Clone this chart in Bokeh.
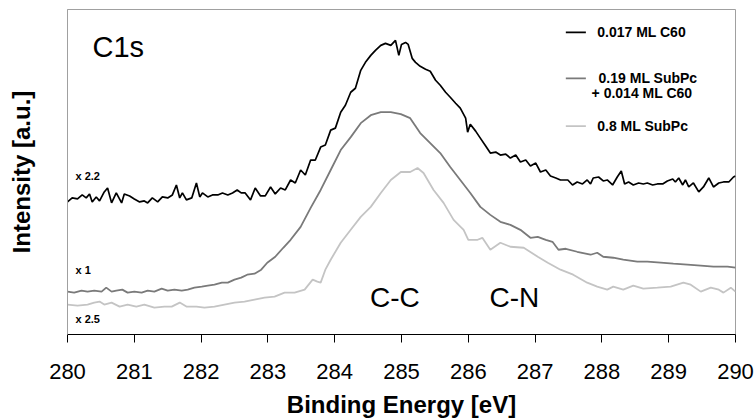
from bokeh.plotting import figure
from bokeh.models import Range1d, FixedTicker, Label, Arrow
from bokeh.embed import file_html
from bokeh.resources import INLINE

# ---- data (binding energy in eV, intensity in arbitrary units) ----
energy_c60 = [280.00, 280.07, 280.15, 280.22, 280.28, 280.33, 280.37, 280.43, 280.48, 280.55,
              280.60, 280.66, 280.73, 280.81, 280.85, 280.93, 281.00, 281.08, 281.15, 281.20,
              281.27, 281.35, 281.42, 281.50, 281.57, 281.63, 281.68, 281.72, 281.78, 281.86,
              281.93, 281.98, 282.02, 282.10, 282.17, 282.25, 282.32, 282.40, 282.47, 282.54,
              282.60, 282.66, 282.74, 282.81, 282.89, 282.96, 283.04, 283.11, 283.19, 283.26,
              283.34, 283.41, 283.49, 283.56, 283.64, 283.71, 283.79, 283.86, 283.94, 284.01,
              284.09, 284.16, 284.24, 284.31, 284.39, 284.46, 284.54, 284.61, 284.69, 284.76,
              284.84, 284.91, 284.96, 285.00, 285.06, 285.10, 285.16, 285.21, 285.28, 285.36,
              285.43, 285.51, 285.58, 285.66, 285.73, 285.81, 285.88, 285.96, 285.99, 286.03,
              286.11, 286.18, 286.26, 286.33, 286.41, 286.48, 286.56, 286.63, 286.71, 286.78,
              286.86, 286.93, 287.01, 287.08, 287.16, 287.23, 287.31, 287.38, 287.49, 287.56,
              287.63, 287.71, 287.78, 287.83, 287.87, 287.95, 288.02, 288.08, 288.16, 288.23,
              288.29, 288.34, 288.40, 288.47, 288.55, 288.62, 288.68, 288.76, 288.83, 288.91,
              288.98, 289.06, 289.10, 289.15, 289.21, 289.25, 289.30, 289.37, 289.45, 289.52,
              289.60, 289.67, 289.75, 289.82, 289.90, 289.97, 290.00]
intensity_c60 = [133, 137, 136, 140, 137, 141, 133, 138, 134, 143,
                 147, 132, 142, 132, 141, 139, 136, 133, 134, 132,
                 137, 133, 138, 137, 140, 150, 137, 142, 135, 137,
                 152, 138, 142, 138, 140, 140, 142, 140, 142, 145,
                 142, 142, 135, 147, 139, 139, 148, 141, 147, 145,
                 155, 152, 165, 160, 175, 175, 188, 190, 205, 207,
                 223, 230, 243, 247, 265, 273, 280, 285, 290, 292,
                 290, 295, 280, 291, 293, 291, 277, 273, 269, 266,
                 264, 255, 250, 243, 238, 232, 227, 217, 203, 211,
                 204, 197, 189, 182, 183, 180, 181, 177, 180, 173,
                 175, 169, 172, 163, 165, 159, 157, 155, 155, 150,
                 153, 151, 155, 151, 157, 158, 154, 155, 150, 158,
                 164, 151, 153, 150, 152, 151, 152, 150, 151, 151,
                 154, 156, 153, 157, 150, 155, 148, 152, 143, 148,
                 157, 148, 152, 153, 153, 158, 159]

energy_mix = [280.00, 280.10, 280.21, 280.30, 280.40, 280.51, 280.58, 280.66, 280.73, 280.82,
              280.90, 281.00, 281.11, 281.20, 281.30, 281.41, 281.50, 281.60, 281.71, 281.80,
              281.90, 282.01, 282.10, 282.20, 282.31, 282.40, 282.50, 282.60, 282.69, 282.80,
              282.90, 282.99, 283.11, 283.23, 283.34, 283.49, 283.64, 283.79, 283.94, 284.09,
              284.24, 284.39, 284.54, 284.69, 284.84, 284.99, 285.13, 285.28, 285.43, 285.58,
              285.73, 285.88, 286.03, 286.18, 286.33, 286.48, 286.63, 286.78, 286.93, 287.04,
              287.16, 287.26, 287.35, 287.46, 287.63, 287.83, 287.93, 288.02, 288.17, 288.32,
              288.53, 288.68, 288.88, 289.07, 289.28, 289.48, 289.67, 289.88, 290.00]
intensity_mix = [43, 42, 44, 43, 44, 43, 47, 43, 44, 45,
                 42, 43, 42, 44, 43, 46, 44, 45, 44, 45,
                 47, 48, 49, 50, 52, 52, 55, 57, 60, 61,
                 65, 72, 78, 87, 95, 108, 127, 145, 165, 185,
                 198, 212, 220, 223, 223, 221, 217, 202, 192, 182,
                 168, 155, 142, 128, 120, 113, 110, 105, 97, 98,
                 95, 93, 85, 86, 83, 80, 82, 78, 77, 75,
                 73, 73, 72, 71, 70, 69, 68, 68, 67]

energy_subpc = [280.00, 280.15, 280.30, 280.40, 280.48, 280.55, 280.66, 280.78, 280.90, 281.03,
                281.15, 281.30, 281.45, 281.56, 281.68, 281.78, 281.93, 282.05, 282.20, 282.35,
                282.50, 282.65, 282.80, 282.95, 283.10, 283.25, 283.40, 283.55, 283.67, 283.74,
                283.79, 283.86, 283.94, 284.09, 284.24, 284.39, 284.54, 284.69, 284.84, 284.99,
                285.13, 285.24, 285.33, 285.48, 285.63, 285.78, 285.93, 286.00, 286.14, 286.21,
                286.33, 286.48, 286.63, 286.83, 287.04, 287.19, 287.38, 287.57, 287.78, 287.93,
                288.08, 288.17, 288.32, 288.47, 288.62, 288.83, 289.03, 289.22, 289.33, 289.48,
                289.63, 289.75, 289.82, 289.93, 290.00]
intensity_subpc = [30, 29, 30, 32, 33, 30, 32, 28, 30, 28,
                   30, 27, 28, 28, 32, 28, 28, 27, 28, 30,
                   32, 33, 35, 37, 38, 42, 42, 45, 55, 53,
                   52, 65, 75, 92, 105, 118, 128, 142, 155, 163,
                   163, 167, 162, 145, 132, 115, 105, 95, 95, 97,
                   85, 92, 88, 87, 78, 72, 65, 60, 52, 48,
                   45, 48, 45, 49, 46, 47, 48, 52, 50, 43,
                   47, 45, 42, 47, 43]

x_ticks = [280, 281, 282, 283, 284, 285, 286, 287, 288, 289, 290]
series_labels = ["0.017 ML C60", "0.19 ML SubPc", "+ 0.014 ML C60", "0.8 ML SubPc"]
scale_labels = ["x 2.2", "x 1", "x 2.5"]

FONT = "Liberation Sans"
C_BLACK = "#000000"
C_DARK = "#7a7a7a"
C_LIGHT = "#c4c4c4"

p = figure(width=755, height=420, output_backend="svg", toolbar_location=None,
           x_range=Range1d(280, 290), y_range=Range1d(0, 326),
           min_border_left=67, min_border_right=20, min_border_top=9,
           min_border_bottom=85)
p.grid.visible = False
p.outline_line_color = "#a0a0a0"
p.outline_line_width = 1
p.background_fill_color = "white"
p.border_fill_color = "white"

# curves
p.line(energy_subpc, intensity_subpc, line_color=C_LIGHT, line_width=1.8)
p.line(energy_mix, intensity_mix, line_color=C_DARK, line_width=1.8)
p.line(energy_c60, intensity_c60, line_color=C_BLACK, line_width=1.7)

# x axis
xa = p.xaxis[0]
xa.ticker = FixedTicker(ticks=x_ticks)
xa.axis_line_color = "#000000"
xa.axis_line_width = 1
xa.major_tick_line_color = "#000000"
xa.major_tick_line_width = 1
xa.major_tick_out = 8
xa.major_tick_in = 0
xa.minor_tick_line_color = None
xa.major_label_text_font = FONT
xa.major_label_text_font_size = "22px"
xa.major_label_text_color = "#000000"
xa.major_label_standoff = 21
xa.axis_label = "Binding Energy [eV]"
xa.axis_label_text_font = FONT
xa.axis_label_text_font_size = "24px"
xa.axis_label_text_font_style = "bold"
xa.axis_label_text_color = "#000000"
xa.axis_label_standoff = 9

# y axis
ya = p.yaxis[0]
ya.ticker = FixedTicker(ticks=[])
ya.axis_line_color = "#a0a0a0"
ya.major_tick_line_color = None
ya.minor_tick_line_color = None
ya.major_tick_out = 0
ya.major_label_standoff = 0
ya.axis_label = "Intensity [a.u.]"
ya.axis_label_text_font = FONT
ya.axis_label_text_font_size = "24px"
ya.axis_label_text_font_style = "bold"
ya.axis_label_text_color = "#000000"
ya.axis_label_standoff = 33

# annotations
def add_label(x, y, text, size, bold=False, align="left"):
    p.add_layout(Label(x=x, y=y, text=text, text_font=FONT, text_font_size=size,
                       text_font_style="bold" if bold else "normal",
                       text_align=align, text_baseline="middle", text_color="#000000"))

add_label(280.76, 288, "C1s", "29px", align="center")
add_label(284.90, 37, "C-C", "28px", align="center")
add_label(286.69, 37, "C-N", "28px", align="center")

add_label(280.12, 159, scale_labels[0], "11px", bold=True)
add_label(280.12, 65, scale_labels[1], "11px", bold=True)
add_label(280.12, 16, scale_labels[2], "11px", bold=True)

# legend
leg_x0, leg_x1, leg_tx = 287.46, 287.76, 287.93
for y, col in [(303, C_BLACK), (257, C_DARK), (209, C_LIGHT)]:
    p.add_layout(Arrow(start=None, end=None, x_start=leg_x0, y_start=y, x_end=leg_x1, y_end=y,
                       line_color=col, line_width=1.8))
add_label(leg_tx, 303, series_labels[0], "14px", bold=True)
add_label(288.69, 257, series_labels[1], "14px", bold=True, align="center")
add_label(288.60, 242, series_labels[2], "14px", bold=True, align="center")
add_label(leg_tx, 209, series_labels[3], "14px", bold=True)

open("out.html", "w").write(file_html(p, INLINE))
